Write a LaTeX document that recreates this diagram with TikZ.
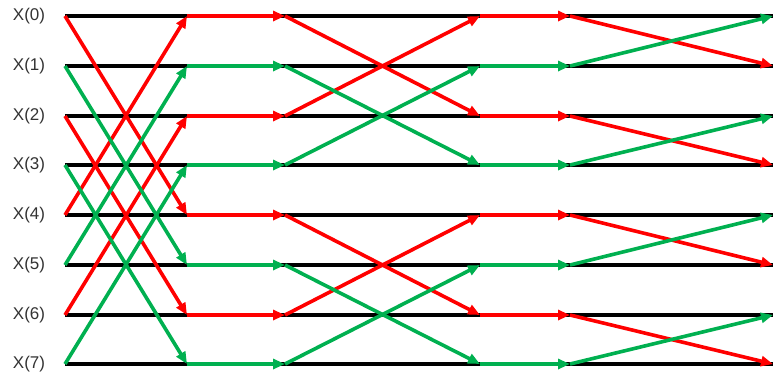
\documentclass[tikz,border=0pt]{standalone}
\usepackage{fontspec}
\setmainfont{Liberation Sans}
\usetikzlibrary{arrows.meta}
\definecolor{fred}{RGB}{255,0,0}
\definecolor{fgreen}{RGB}{0,176,80}
\begin{document}
\begin{tikzpicture}[x=1pt,y=-1pt,
  rail/.style={line width=4pt,black},
  wire/.style={line width=3.6pt,-{Triangle[length=12pt,width=10pt]}},
  rw/.style={wire,fred},
  gw/.style={wire,fgreen},
  lbl/.style={font=\fontsize{17pt}{19pt}\selectfont,text=black!80,inner sep=0pt}]
\useasboundingbox (0,0) rectangle (774,376);
\foreach \r/\y in {0/16,1/66,2/116,3/165,4/215,5/265,6/315,7/364}{
  \coordinate (a\r) at (65,\y);
  \coordinate (b\r) at (187,\y);
  \coordinate (c\r) at (285,\y);
  \coordinate (d\r) at (480,\y);
  \coordinate (e\r) at (570,\y);
  \coordinate (f\r) at (773,\y);
  \node[lbl] (l\r) at (29,\y) {X(\r)};
  \draw[rail] (a\r) -- (f\r);
}
% stage 1
\foreach \u/\v in {0/4,2/6}{
  \draw[rw] (a\u) -- (b\v);
  \draw[rw] (a\v) -- (b\u);
}
\foreach \u/\v in {1/5,3/7}{
  \draw[gw] (a\u) -- (b\v);
  \draw[gw] (a\v) -- (b\u);
}
% horizontal after stage 1 and stage 2
\foreach \r in {0,2,4,6}{
  \draw[rw] (b\r) -- (c\r);
  \draw[rw] (d\r) -- (e\r);
}
\foreach \r in {1,3,5,7}{
  \draw[gw] (b\r) -- (c\r);
  \draw[gw] (d\r) -- (e\r);
}
% stage 2
\foreach \u/\v in {0/2,4/6}{
  \draw[rw] (c\u) -- (d\v);
  \draw[rw] (c\v) -- (d\u);
}
\foreach \u/\v in {1/3,5/7}{
  \draw[gw] (c\u) -- (d\v);
  \draw[gw] (c\v) -- (d\u);
}
% stage 3
\foreach \u/\v in {0/1,2/3,4/5,6/7}{
  \draw[rw] (e\u) -- (f\v);
  \draw[gw] (e\v) -- (f\u);
}
\end{tikzpicture}
\end{document}
